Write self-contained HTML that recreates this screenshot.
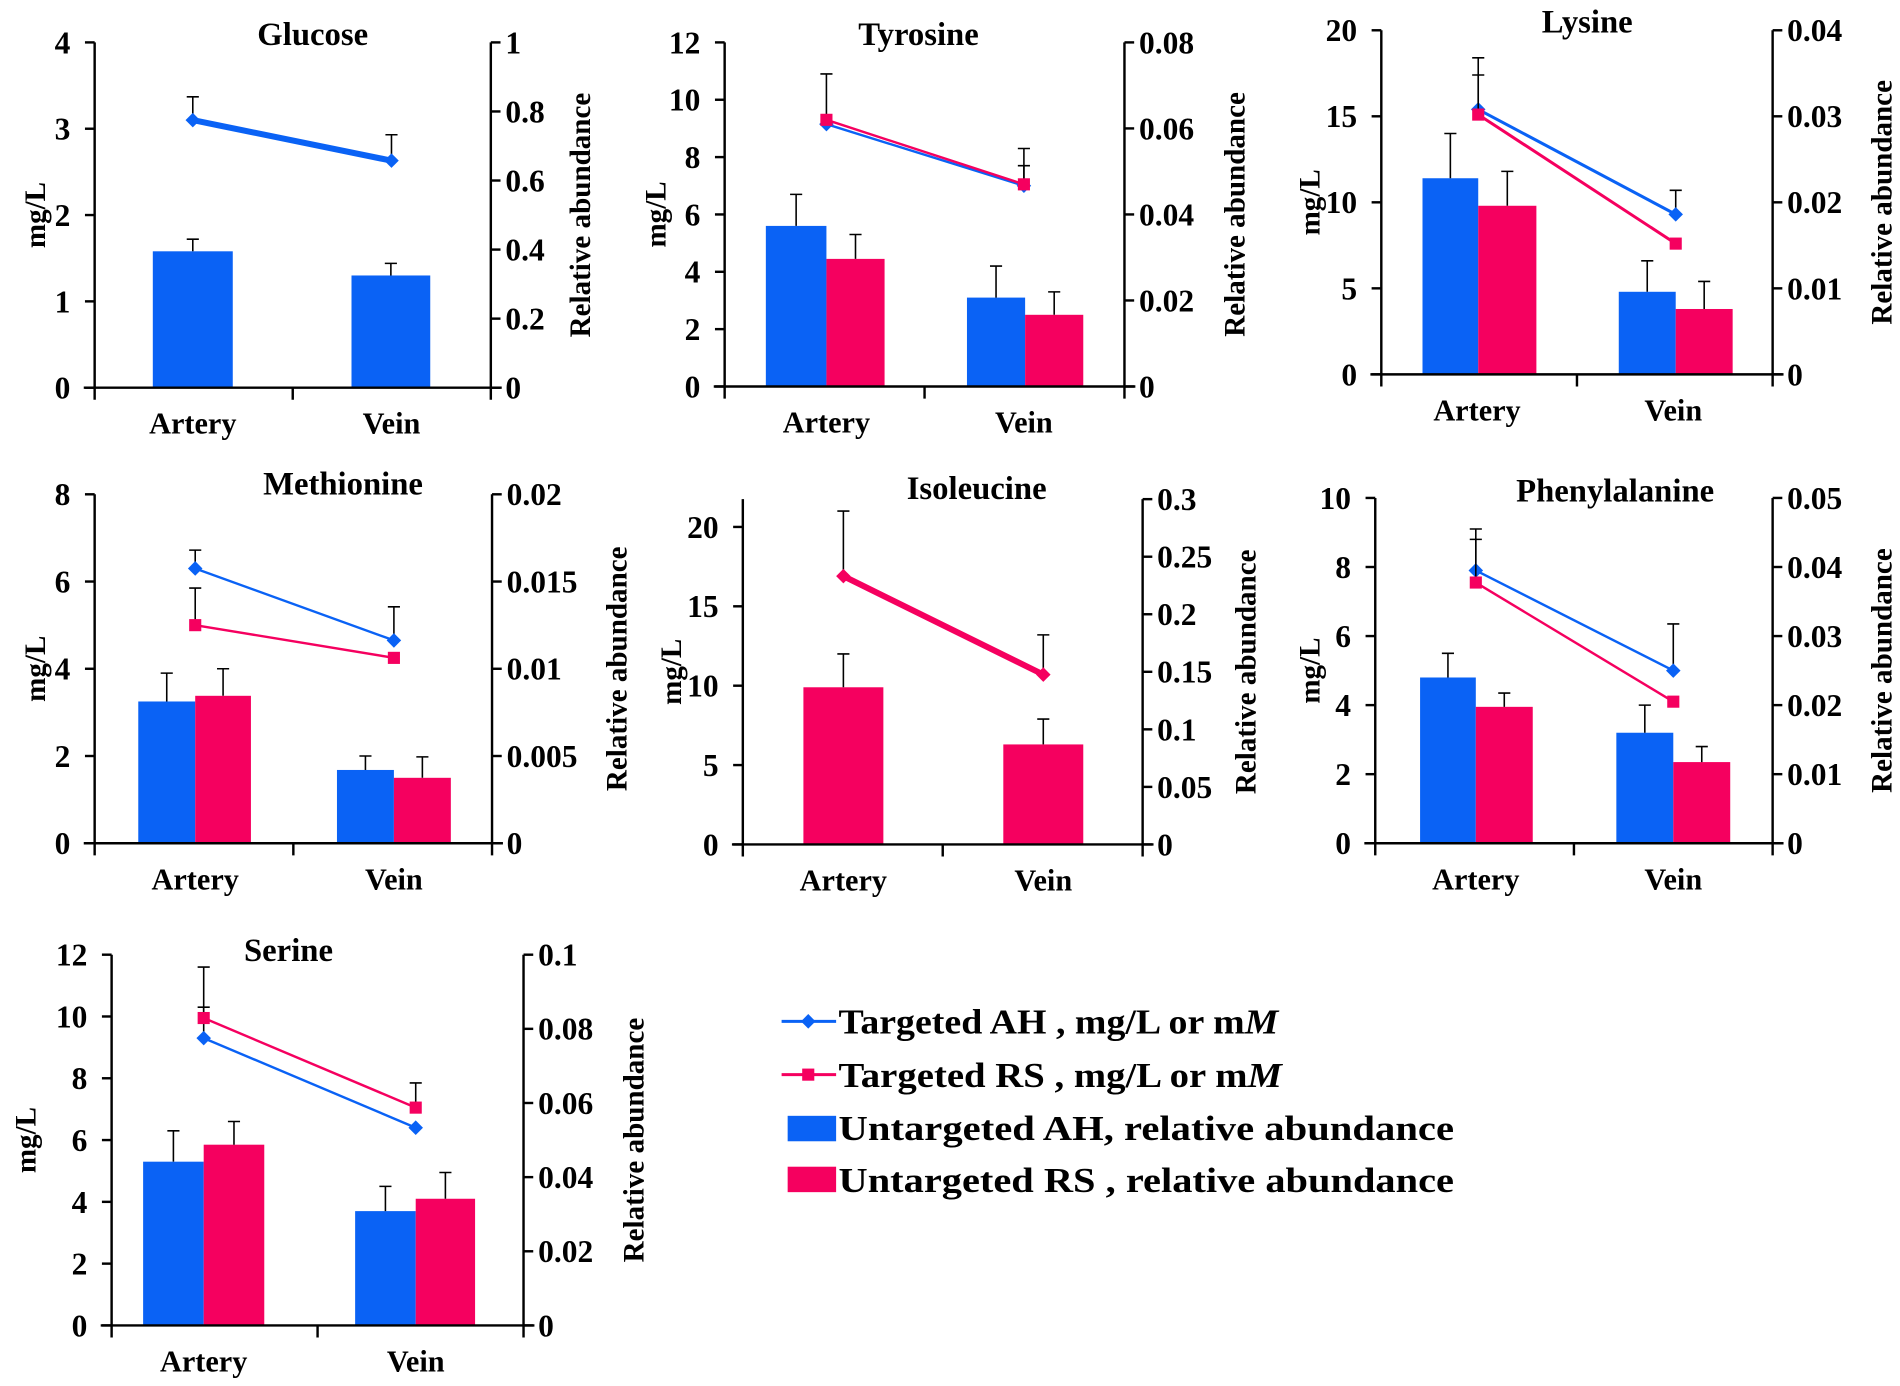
<!DOCTYPE html>
<html><head><meta charset="utf-8"><style>
html,body{margin:0;padding:0;background:#fff;}
svg{display:block;font-family:"Liberation Serif",serif;font-weight:bold;}
</style></head><body>
<svg id="s" xmlns="http://www.w3.org/2000/svg" width="1900" height="1386" viewBox="0 0 1568 1144"></svg>
<script>
const B="#0a62f5",P="#f5005f";
const panels=[
{t:"Glucose",tx:258,ty:28,L:78,R:405,top:35,bot:320,lmax:4,lstep:1,rmax:1,rstep:0.2,cx:[159,323],mgx:28,rax:478,
 bars:[[126,192,1.58,1.72,B],[290,355,1.3,1.44,B]],
 lines:[{c:B,w:5,m:"d",p:[[159,3.1,3.37],[323,2.63,2.93]]}]},
{t:"Tyrosine",tx:758,ty:28,L:598,R:928,top:35,bot:319,lmax:12,lstep:2,rmax:0.08,rstep:0.02,cx:[682,845],mgx:540,rax:1018,
 bars:[[632,682,5.6,6.7,B],[682,730,4.45,5.3,P],[798,846,3.1,4.2,B],[846,894,2.5,3.3,P]],
 lines:[{c:B,w:2,m:"d",p:[[682,9.15,null],[845,7.0,7.7]]},{c:P,w:2,m:"s",p:[[682,9.3,10.9],[845,7.05,8.3]]}]},
{t:"Lysine",tx:1310,ty:18,L:1140,R:1463,top:25,bot:309,lmax:20,lstep:5,rmax:0.04,rstep:0.01,cx:[1219,1381],mgx:1080,rax:1552,
 bars:[[1174,1220,11.4,14,B],[1220,1268,9.8,11.8,P],[1336,1383,4.8,6.6,B],[1383,1430,3.8,5.4,P]],
 lines:[{c:B,w:2.5,m:"d",p:[[1220,15.4,18.4],[1383,9.3,10.7]]},{c:P,w:2.5,m:"s",p:[[1220,15.1,17.4],[1383,7.6,null]]}]},
{t:"Methionine",tx:283,ty:399,L:78,R:406,top:408,bot:696,lmax:8,lstep:2,rmax:0.02,rstep:0.005,cx:[161,325],mgx:28,rax:508,
 bars:[[114,161,3.25,3.9,B],[161,207,3.38,4.0,P],[278,325,1.68,2.0,B],[325,372,1.5,1.98,P]],
 lines:[{c:B,w:2,m:"d",p:[[161,6.3,6.72],[325,4.65,5.42]]},{c:P,w:2,m:"s",p:[[161,5.0,5.85],[325,4.25,null]]}]},
{t:"Isoleucine",tx:806,ty:403,L:613,R:943,top:412,bot:697,lmax:21.75,lstep:5,ltickmax:20,rmax:0.3,rstep:0.05,cx:[696,861],mgx:553,rax:1027,
 bars:[[663,729,9.9,12.0,P],[828,894,6.3,7.9,P]],
 lines:[{c:P,w:5,m:"d",p:[[696,16.9,21.0],[861,10.7,13.2]]}]},
{t:"Phenylalanine",tx:1333,ty:405,L:1135,R:1463,top:411,bot:696,lmax:10,lstep:2,rmax:0.05,rstep:0.01,cx:[1218,1381],mgx:1080,rax:1552,
 bars:[[1172,1218,4.8,5.5,B],[1218,1265,3.95,4.35,P],[1334,1381,3.2,4.0,B],[1381,1428,2.35,2.8,P]],
 lines:[{c:B,w:2,m:"d",p:[[1218,7.9,9.1],[1381,5.0,6.35]]},{c:P,w:2,m:"s",p:[[1218,7.55,8.8],[1381,4.1,null]]}]},
{t:"Serine",tx:238,ty:784,L:92,R:432,top:788,bot:1094,lmax:12,lstep:2,rmax:0.1,rstep:0.02,cx:[168,343],mgx:20,rax:522,
 bars:[[118,168,5.3,6.3,B],[168,218,5.85,6.6,P],[293,343,3.7,4.5,B],[343,392,4.1,4.95,P]],
 lines:[{c:B,w:2,m:"d",p:[[168,9.3,10.3],[343,6.4,null]]},{c:P,w:2,m:"s",p:[[168,9.95,11.6],[343,7.05,7.85]]}]}
];
let h="";
function fmt(v){return String(+v.toFixed(4));}
function err(x,y,ye){return `<path d="M${x} ${y}V${ye}M${x-5} ${ye}H${x+5}" stroke="#000" stroke-width="1.3" fill="none"/>`;}
for(const p of panels){
 const Y=v=>p.bot-(v/p.lmax)*(p.bot-p.top);
 const mid=(p.L+p.R)/2;
 for(const b of p.bars){
  const y=Y(b[2]);h+=`<rect x="${b[0]}" y="${y}" width="${b[1]-b[0]}" height="${p.bot-y}" fill="${b[4]}"/>`;
  h+=err((b[0]+b[1])/2,y,Y(b[3]));
 }
 for(const l of p.lines){
  const pts=l.p.map(q=>[q[0],Y(q[1])]);
  for(const q of l.p){if(q[2]!=null)h+=err(q[0],Y(q[1]),Y(q[2]));}
  h+=`<polyline points="${pts.map(a=>a.join(',')).join(' ')}" stroke="${l.c}" stroke-width="${l.w}" fill="none"/>`;
  for(const a of pts){
   if(l.m=="d")h+=`<path d="M${a[0]} ${a[1]-6}L${a[0]+6} ${a[1]}L${a[0]} ${a[1]+6}L${a[0]-6} ${a[1]}Z" fill="${l.c}"/>`;
   else h+=`<rect x="${a[0]-5}" y="${a[1]-5}" width="10" height="10" fill="${l.c}"/>`;
  }
 }
 h+=`<path d="M${p.L} ${p.top}V${p.bot+10}M${p.R} ${p.top}V${p.bot+10}M${p.L-9} ${p.bot}H${p.R+9}M${mid} ${p.bot}V${p.bot+10}" stroke="#000" stroke-width="2" fill="none"/>`;
 const tmax=p.ltickmax||p.lmax;
 for(let v=0;v<=tmax+1e-9;v+=p.lstep){const y=Y(v);h+=`<path d="M${p.L-8} ${y}H${p.L}" stroke="#000" stroke-width="2"/><text x="${p.L-20}" y="${y+9}" font-size="26" text-anchor="end">${fmt(v)}</text>`;}
 for(let v=0;v<=p.rmax+1e-9;v+=p.rstep){const y=p.bot-(v/p.rmax)*(p.bot-p.top);h+=`<path d="M${p.R} ${y}H${p.R+8}" stroke="#000" stroke-width="2"/><text x="${p.R+12}" y="${y+9}" font-size="26">${fmt(v)}</text>`;}
 h+=`<text x="${p.tx}" y="${p.ty+9}" font-size="27" text-anchor="middle">${p.t}</text>`;
 h+=`<text x="${p.cx[0]}" y="${p.bot+38}" font-size="25" text-anchor="middle">Artery</text><text x="${p.cx[1]}" y="${p.bot+38}" font-size="25" text-anchor="middle">Vein</text>`;
 const my=(p.top+p.bot)/2;
 h+=`<text transform="translate(${p.mgx+9},${my}) rotate(-90)" font-size="24" text-anchor="middle">mg/L</text>`;
 h+=`<text transform="translate(${p.rax+9},${my}) rotate(-90)" font-size="24" text-anchor="middle">Relative abundance</text>`;
}
h+=`<path d="M645 843H690" stroke="${B}" stroke-width="2.5"/><path d="M667 837L673 843L667 849L661 843Z" fill="${B}"/>`;
h+=`<path d="M645 887H690" stroke="${P}" stroke-width="2.5"/><rect x="662" y="882" width="10" height="10" fill="${P}"/>`;
h+=`<rect x="650" y="921" width="40" height="21" fill="${B}"/><rect x="650" y="963" width="40" height="21" fill="${P}"/>`;
h+=`<text x="692" y="853" font-size="29" textLength="363" lengthAdjust="spacingAndGlyphs">Targeted AH , mg/L or m<tspan font-style="italic">M</tspan></text>`;
h+=`<text x="692" y="897" font-size="29" textLength="366" lengthAdjust="spacingAndGlyphs">Targeted RS  , mg/L or m<tspan font-style="italic">M</tspan></text>`;
h+=`<text x="692" y="941" font-size="29" textLength="508" lengthAdjust="spacingAndGlyphs">Untargeted AH, relative abundance</text>`;
h+=`<text x="692" y="984" font-size="29" textLength="508" lengthAdjust="spacingAndGlyphs">Untargeted RS , relative abundance</text>`;
document.getElementById("s").innerHTML=h;
</script>
</body></html>
